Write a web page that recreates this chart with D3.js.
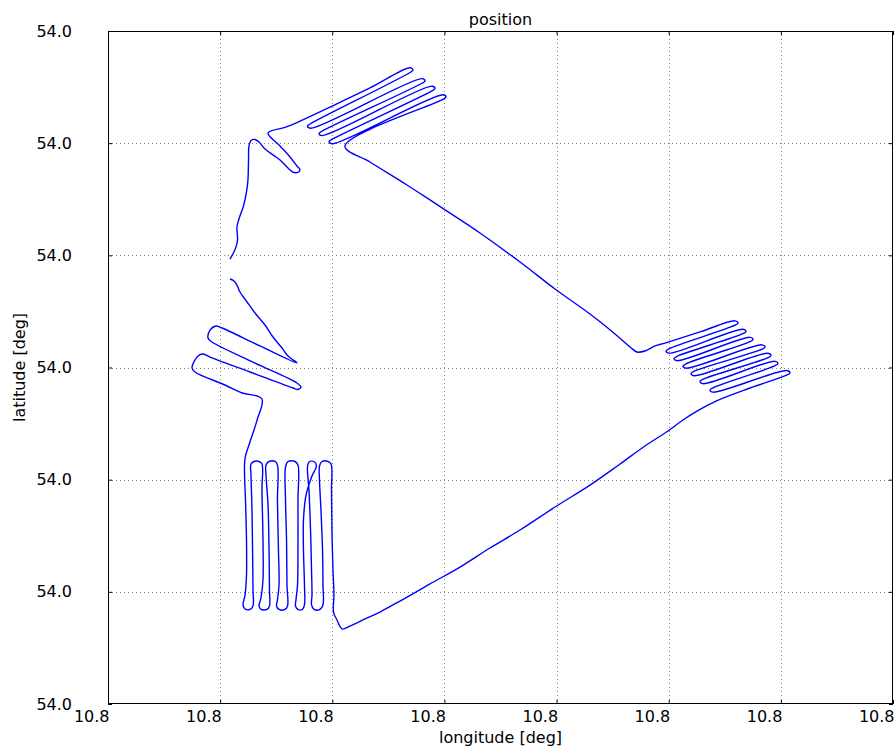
<!DOCTYPE html>
<html>
<head>
<meta charset="utf-8">
<title>position</title>
<style>
  body { margin: 0; background: #fff; }
  text { font-family: "DejaVu Sans", sans-serif; }
</style>
</head>
<body>
<script src="https://cdnjs.cloudflare.com/ajax/libs/d3/7.8.5/d3.min.js"></script>
<script>

var w = 896;
var h = 747;
var margin = {top: 31, right: 3, bottom: 43, left: 108};

var lonTicks = [10.800, 10.801, 10.802, 10.803, 10.804, 10.805, 10.806, 10.807];
var latTicks = [54.000, 54.001, 54.002, 54.003, 54.004, 54.005, 54.006];

// track
var lon = [
  10.801088, 10.801124, 10.801150, 10.801177, 10.801240, 10.801311, 10.801400, 10.801471, 10.801552, 10.801605,
  10.801685, 10.801355, 10.801017, 10.800963, 10.800910, 10.800892, 10.800927, 10.801311, 10.801685, 10.801721,
  10.801694, 10.801650, 10.801266, 10.800927, 10.800847, 10.800803, 10.800749, 10.800776, 10.801043, 10.801195,
  10.801329, 10.801373, 10.801373, 10.801338, 10.801302, 10.801257, 10.801222, 10.801217, 10.801226, 10.801235,
  10.801235, 10.801222, 10.801204, 10.801222, 10.801266, 10.801293, 10.801293, 10.801289, 10.801284, 10.801275,
  10.801275, 10.801302, 10.801347, 10.801373, 10.801373, 10.801382, 10.801382, 10.801364, 10.801347, 10.801364,
  10.801418, 10.801440, 10.801440, 10.801436, 10.801427, 10.801409, 10.801409, 10.801436, 10.801489, 10.801511,
  10.801511, 10.801520, 10.801525, 10.801511, 10.801503, 10.801525, 10.801578, 10.801601, 10.801596, 10.801592,
  10.801583, 10.801583, 10.801605, 10.801668, 10.801694, 10.801694, 10.801694, 10.801690, 10.801676, 10.801672,
  10.801694, 10.801734, 10.801752, 10.801752, 10.801743, 10.801743, 10.801766, 10.801819, 10.801859, 10.801837,
  10.801792, 10.801779, 10.801792, 10.801806, 10.801815, 10.801819, 10.801815, 10.801837, 10.801890, 10.801917,
  10.801917, 10.801913, 10.801899, 10.801886, 10.801886, 10.801908, 10.801962, 10.801989, 10.801993, 10.801997,
  10.802006, 10.802015, 10.802011, 10.802042, 10.802087, 10.802158, 10.802292, 10.802425, 10.802604, 10.802871,
  10.803139, 10.803406, 10.803674, 10.803986, 10.804298, 10.804566, 10.804788, 10.804994, 10.805127, 10.805252,
  10.805422, 10.805725, 10.806046, 10.806081, 10.806055, 10.805395, 10.805368, 10.805395, 10.805948, 10.805974,
  10.805948, 10.805306, 10.805279, 10.805306, 10.805885, 10.805912, 10.805885, 10.805225, 10.805199, 10.805225,
  10.805832, 10.805859, 10.805832, 10.805154, 10.805127, 10.805154, 10.805725, 10.805752, 10.805725, 10.805074,
  10.805047, 10.805074, 10.805662, 10.805689, 10.805662, 10.805002, 10.804976, 10.805002, 10.805591, 10.805618,
  10.805591, 10.805279, 10.804967, 10.804878, 10.804788, 10.804717, 10.804655, 10.804521, 10.804298, 10.803986,
  10.803674, 10.803317, 10.803139, 10.802898, 10.802666, 10.802336, 10.802113, 10.802987, 10.803014, 10.802987,
  10.801997, 10.801971, 10.801997, 10.802889, 10.802916, 10.802889, 10.801908, 10.801882, 10.801908, 10.802800,
  10.802827, 10.802800, 10.801806, 10.801779, 10.801806, 10.802693, 10.802720, 10.802693, 10.802336, 10.801980,
  10.801685, 10.801578, 10.801427, 10.801534, 10.801623, 10.801685, 10.801712, 10.801685, 10.801641, 10.801534,
  10.801400, 10.801347, 10.801311, 10.801275, 10.801257, 10.801253, 10.801248, 10.801235, 10.801208, 10.801168,
  10.801150, 10.801155, 10.801137, 10.801088
];

var lat = [
  54.003789, 54.003771, 54.003735, 54.003673, 54.003584, 54.003486, 54.003379, 54.003272, 54.003174, 54.003103,
  54.003040, 54.003192, 54.003352, 54.003370, 54.003334, 54.003263, 54.003227, 54.003040, 54.002862, 54.002826,
  54.002804, 54.002817, 54.002960, 54.003085, 54.003120, 54.003103, 54.002996, 54.002960, 54.002844, 54.002773,
  54.002746, 54.002719, 54.002666, 54.002559, 54.002443, 54.002309, 54.002193, 54.002086, 54.001819, 54.001462,
  54.001150, 54.000972, 54.000883, 54.000847, 54.000843, 54.000874, 54.001016, 54.001373, 54.001730, 54.002042,
  54.002140, 54.002162, 54.002162, 54.002140, 54.001908, 54.001462, 54.001106, 54.000945, 54.000874, 54.000843,
  54.000843, 54.000874, 54.001016, 54.001373, 54.001774, 54.002042, 54.002131, 54.002162, 54.002162, 54.002131,
  54.001819, 54.001373, 54.001061, 54.000927, 54.000874, 54.000843, 54.000843, 54.000874, 54.001061, 54.001462,
  54.001819, 54.002113, 54.002162, 54.002162, 54.002131, 54.001819, 54.001373, 54.001061, 54.000927, 54.000874,
  54.000843, 54.000843, 54.000883, 54.001061, 54.001373, 54.001640, 54.001863, 54.002033, 54.002122, 54.002162,
  54.002158, 54.002113, 54.001908, 54.001551, 54.001195, 54.000972, 54.000883, 54.000843, 54.000843, 54.000883,
  54.001061, 54.001373, 54.001730, 54.001997, 54.002122, 54.002162, 54.002162, 54.002140, 54.001908, 54.001551,
  54.001195, 54.000972, 54.000820, 54.000749, 54.000669, 54.000695, 54.000758, 54.000820, 54.000918, 54.001070,
  54.001221, 54.001391, 54.001551, 54.001756, 54.001952, 54.002140, 54.002300, 54.002434, 54.002532, 54.002612,
  54.002701, 54.002817, 54.002929, 54.002951, 54.002973, 54.002780, 54.002799, 54.002819, 54.003016, 54.003036,
  54.003055, 54.002856, 54.002875, 54.002895, 54.003087, 54.003107, 54.003127, 54.002927, 54.002947, 54.002966,
  54.003163, 54.003183, 54.003202, 54.002994, 54.003013, 54.003033, 54.003230, 54.003250, 54.003269, 54.003061,
  54.003080, 54.003100, 54.003301, 54.003321, 54.003341, 54.003128, 54.003147, 54.003167, 54.003377, 54.003397,
  54.003416, 54.003317, 54.003218, 54.003192, 54.003147, 54.003138, 54.003183, 54.003299, 54.003477, 54.003700,
  54.003941, 54.004199, 54.004319, 54.004476, 54.004627, 54.004832, 54.004975, 54.005391, 54.005412, 54.005432,
  54.004995, 54.005015, 54.005034, 54.005467, 54.005487, 54.005508, 54.005067, 54.005086, 54.005106, 54.005534,
  54.005554, 54.005575, 54.005133, 54.005153, 54.005173, 54.005630, 54.005652, 54.005672, 54.005492, 54.005322,
  54.005184, 54.005140, 54.005091, 54.004975, 54.004877, 54.004796, 54.004761, 54.004738, 54.004747, 54.004850,
  54.004948, 54.005010, 54.005033, 54.005024, 54.004975, 54.004850, 54.004672, 54.004565, 54.004440, 54.004324,
  54.004253, 54.004137, 54.004061, 54.003967
];

var track = lon.map(function(d, i) { return [d, lat[i]]; });

var xScale = d3.scaleLinear()
               .domain([lonTicks[0], lonTicks[lonTicks.length - 1]])
               .range([margin.left, w - margin.right]);

var yScale = d3.scaleLinear()
               .domain([latTicks[0], latTicks[latTicks.length - 1]])
               .range([h - margin.bottom, margin.top]);

var svg = d3.select("body")
            .append("svg")
            .attr("width", w)
            .attr("height", h);

// grid
svg.append("g")
    .selectAll("line")
    .data(lonTicks.slice(1, -1))
    .enter()
    .append("line")
    .attr("x1", function(d) { return Math.round(xScale(d)) + 0.5; })
    .attr("x2", function(d) { return Math.round(xScale(d)) + 0.5; })
    .attr("y1", margin.top)
    .attr("y2", h - margin.bottom)
    .attr("stroke", "#808080")
    .attr("stroke-width", 1)
    .attr("stroke-dasharray", "1,3");

svg.append("g")
    .selectAll("line")
    .data(latTicks.slice(1, -1))
    .enter()
    .append("line")
    .attr("x1", margin.left)
    .attr("x2", w - margin.right)
    .attr("y1", function(d) { return Math.round(yScale(d)) + 0.5; })
    .attr("y2", function(d) { return Math.round(yScale(d)) + 0.5; })
    .attr("stroke", "#808080")
    .attr("stroke-width", 1)
    .attr("stroke-dasharray", "1,3");

// track line
var line = d3.line()
             .x(function(d) { return xScale(d[0]); })
             .y(function(d) { return yScale(d[1]); })
             .curve(d3.curveCatmullRom.alpha(0.5));

svg.append("path")
    .datum(track)
    .attr("d", line)
    .attr("fill", "none")
    .attr("stroke", "#0000ff")
    .attr("stroke-width", 1.4)
    .attr("stroke-linejoin", "round");

// axes
var fmt = d3.format(".1f");

var xAxis = svg.append("g")
    .attr("transform", "translate(0," + (h - margin.bottom) + ")")
    .call(d3.axisBottom(xScale).tickValues(lonTicks).tickFormat(fmt).tickSizeInner(-4).tickSizeOuter(0).tickPadding(7));

// tick labels sit left of their tick in the original
xAxis.selectAll(".tick text")
    .attr("text-anchor", "end")
    .attr("dx", "1");

var yAxis = svg.append("g")
    .attr("transform", "translate(" + margin.left + ",0)")
    .call(d3.axisLeft(yScale).tickValues(latTicks).tickFormat(fmt).tickSizeInner(-4).tickSizeOuter(0).tickPadding(36));

svg.append("g")
    .attr("transform", "translate(0," + margin.top + ")")
    .call(d3.axisTop(xScale).tickValues(lonTicks).tickFormat("").tickSizeInner(-4).tickSizeOuter(0));

svg.append("g")
    .attr("transform", "translate(" + (w - margin.right) + ",0)")
    .call(d3.axisRight(yScale).tickValues(latTicks).tickFormat("").tickSizeInner(-4).tickSizeOuter(0));

svg.selectAll(".domain").remove();
svg.selectAll(".tick text")
    .attr("font-family", "DejaVu Sans, sans-serif")
    .attr("font-size", "16px")
    .attr("fill", "#000");

// frame
svg.append("rect")
    .attr("x", margin.left + 0.5)
    .attr("y", margin.top + 0.5)
    .attr("width", w - margin.left - margin.right - 1)
    .attr("height", h - margin.top - margin.bottom - 1)
    .attr("fill", "none")
    .attr("stroke", "#000")
    .attr("stroke-width", 1);

// labels
svg.append("text")
    .attr("x", (margin.left + w - margin.right) / 2)
    .attr("y", 25)
    .attr("text-anchor", "middle")
    .attr("font-size", "16px")
    .text("position");

svg.append("text")
    .attr("x", (margin.left + w - margin.right) / 2)
    .attr("y", 743)
    .attr("text-anchor", "middle")
    .attr("font-size", "16px")
    .text("longitude [deg]");

svg.append("text")
    .attr("transform", "translate(25," + ((margin.top + h - margin.bottom) / 2) + ") rotate(-90)")
    .attr("text-anchor", "middle")
    .attr("font-size", "16px")
    .text("latitude [deg]");

</script>
</body>
</html>
